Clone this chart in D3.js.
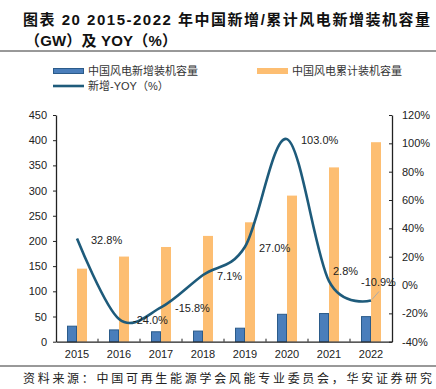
<!DOCTYPE html>
<html>
<head>
<meta charset="utf-8">
<script src="https://cdn.jsdelivr.net/npm/d3@7"></script>
<style>
  body { margin: 0; background: #fff; }
  svg { display: block; }
</style>
</head>
<body>
<div id="chart"></div>
<script>
// data
const years = ["2015", "2016", "2017", "2018", "2019", "2020", "2021", "2022"];
const newCap = [30.8, 23.4, 19.7, 21.1, 26.8, 54.4, 55.9, 49.8];
const cumCap = [145, 169, 188, 210, 237, 290, 346, 396];
const yoy = [32.8, -24.0, -15.8, 7.1, 27.0, 103.0, 2.8, -10.9];
const leftTicks = [0, 50, 100, 150, 200, 250, 300, 350, 400, 450];
const rightTicks = [-40, -20, 0, 20, 40, 60, 80, 100, 120];

// label nudges (dx, dy) from default position
const labelShift = [[0, 0], [0, 0], [0, 0], [0, 0], [0, 0], [0, 0], [-10, -11], [-24, -19]];

let width = 436, height = 389;
let plotLeft = 56, plotRight = 392, plotTop = 115, plotBottom = 341.7;

let cjk = "'Liberation Sans', 'Noto Sans CJK SC', sans-serif";

let svg = d3.select("#chart").append("svg")
    .attr("width", width)
    .attr("height", height);

//title
svg.append("text")
    .attr("x", 23).attr("y", 25)
    .attr("font-family", cjk).attr("font-size", 15).attr("font-weight", "bold")
    .attr("fill", "#111")
    .attr("textLength", 407).attr("lengthAdjust", "spacing")
    .text("图表 20 2015-2022 年中国新增/累计风电新增装机容量");
svg.append("text")
    .attr("x", 25).attr("y", 46)
    .attr("font-family", cjk).attr("font-size", 15).attr("font-weight", "bold")
    .attr("fill", "#111")
    .attr("textLength", 152).attr("lengthAdjust", "spacing")
    .text("（GW）及 YOY（%）");

svg.append("line").attr("x1", 0).attr("x2", width).attr("y1", 51).attr("y2", 51)
    .attr("stroke", "#333").attr("stroke-width", 1);
svg.append("line").attr("x1", 0).attr("x2", width).attr("y1", 366).attr("y2", 366)
    .attr("stroke", "#333").attr("stroke-width", 1);

//source
svg.append("text")
    .attr("x", 23).attr("y", 383)
    .attr("font-family", cjk).attr("font-size", 12).attr("fill", "#222")
    .attr("textLength", 409).attr("lengthAdjust", "spacing")
    .text("资料来源：中国可再生能源学会风能专业委员会，华安证券研究");

//scales
let x = d3.scaleBand().domain(years).range([plotLeft, plotRight]);
let sub = d3.scaleBand().domain(["new", "cum"]).range([-10, 10]);
let yL = d3.scaleLinear().domain([0, 450]).range([plotBottom, plotTop]);
let yR = d3.scaleLinear().domain([-40, 120]).range([plotBottom, plotTop]);

let plot = svg.append("g");

//bars
plot.selectAll(".bar-cum")
    .data(years)
    .join("rect")
    .attr("class", "bar-cum")
    .attr("x", (d) => x(d) + x.bandwidth() / 2 + sub("cum"))
    .attr("width", sub.bandwidth())
    .attr("y", (d, i) => yL(cumCap[i]))
    .attr("height", (d, i) => plotBottom - yL(cumCap[i]))
    .attr("fill", "#fdbe72");

plot.selectAll(".bar-new")
    .data(years)
    .join("rect")
    .attr("class", "bar-new")
    .attr("x", (d) => x(d) + x.bandwidth() / 2 + sub("new") + 0.5)
    .attr("width", sub.bandwidth() - 1)
    .attr("y", (d, i) => yL(newCap[i]))
    .attr("height", (d, i) => plotBottom - yL(newCap[i]))
    .attr("fill", "#4a7ebb")
    .attr("stroke", "#2b5b8a")
    .attr("stroke-width", 1);

//yoy line
let pts = years.map((d, i) => [x(d) + x.bandwidth() / 2, yR(yoy[i])]);
plot.append("path")
    .attr("d", d3.line().curve(d3.curveCatmullRom.alpha(0))(pts))
    .attr("fill", "none")
    .attr("stroke", "#1e5b7b")
    .attr("stroke-width", 2.6);

// leader line for last label
plot.append("line")
    .attr("x1", pts[7][0] + 1).attr("y1", pts[7][1] - 1)
    .attr("x2", pts[7][0] + 8).attr("y2", pts[7][1] - 9)
    .attr("stroke", "#aaa").attr("stroke-width", 1);

plot.selectAll(".yoy-label")
    .data(yoy)
    .join("text")
    .attr("class", "yoy-label")
    .attr("x", (d, i) => pts[i][0] + 14 + labelShift[i][0])
    .attr("y", (d, i) => pts[i][1] + 5 + labelShift[i][1])
    .attr("font-family", "'Liberation Sans', sans-serif")
    .attr("font-size", 11)
    .attr("fill", "#222")
    .text((d) => d.toFixed(1) + "%");

//axes
let axisFont = "'Liberation Sans', sans-serif";

let gL = svg.append("g")
    .attr("transform", `translate(${plotLeft},0)`)
    .call(d3.axisLeft(yL).tickValues(leftTicks).tickSize(3).tickPadding(6).tickSizeOuter(0));
let gR = svg.append("g")
    .attr("transform", `translate(${plotRight},0)`)
    .call(d3.axisRight(yR).tickValues(rightTicks).tickFormat((d) => d + "%").tickSize(-3).tickPadding(10).tickSizeOuter(0));
let gB = svg.append("g")
    .attr("transform", `translate(0,${plotBottom})`)
    .call(d3.axisBottom(x).tickSize(0).tickPadding(9));

// category separators on x axis, pointing up
gB.selectAll(".sep")
    .data(years.slice(1))
    .join("line")
    .attr("class", "sep")
    .attr("x1", (d) => x(d)).attr("x2", (d) => x(d))
    .attr("y1", 0).attr("y2", -3)
    .attr("stroke", "#222");

[gL, gR, gB].forEach(function (g) {
    g.selectAll(".domain").attr("stroke", "#222").attr("stroke-width", 1.3);
    g.selectAll(".tick line").attr("stroke", "#222");
    g.selectAll("text")
        .attr("font-family", axisFont)
        .attr("font-size", 11)
        .attr("fill", "#222");
});
gR.selectAll(".tick text").attr("x", 10);

//legend
let legend = svg.append("g").attr("font-family", cjk).attr("font-size", 11).attr("fill", "#333");
legend.append("rect").attr("x", 53.5).attr("y", 68.5).attr("width", 30).attr("height", 5)
    .attr("fill", "#4a7ebb").attr("stroke", "#2b5b8a");
legend.append("text").attr("x", 88).attr("y", 75).text("中国风电新增装机容量");
legend.append("rect").attr("x", 257).attr("y", 68).attr("width", 31).attr("height", 6)
    .attr("fill", "#fdbe72");
legend.append("text").attr("x", 292).attr("y", 75).text("中国风电累计装机容量");
legend.append("line").attr("x1", 53).attr("x2", 84).attr("y1", 86).attr("y2", 86)
    .attr("stroke", "#1e5b7b").attr("stroke-width", 2.6);
legend.append("text").attr("x", 88).attr("y", 90).text("新增-YOY（%）");
</script>
</body>
</html>
